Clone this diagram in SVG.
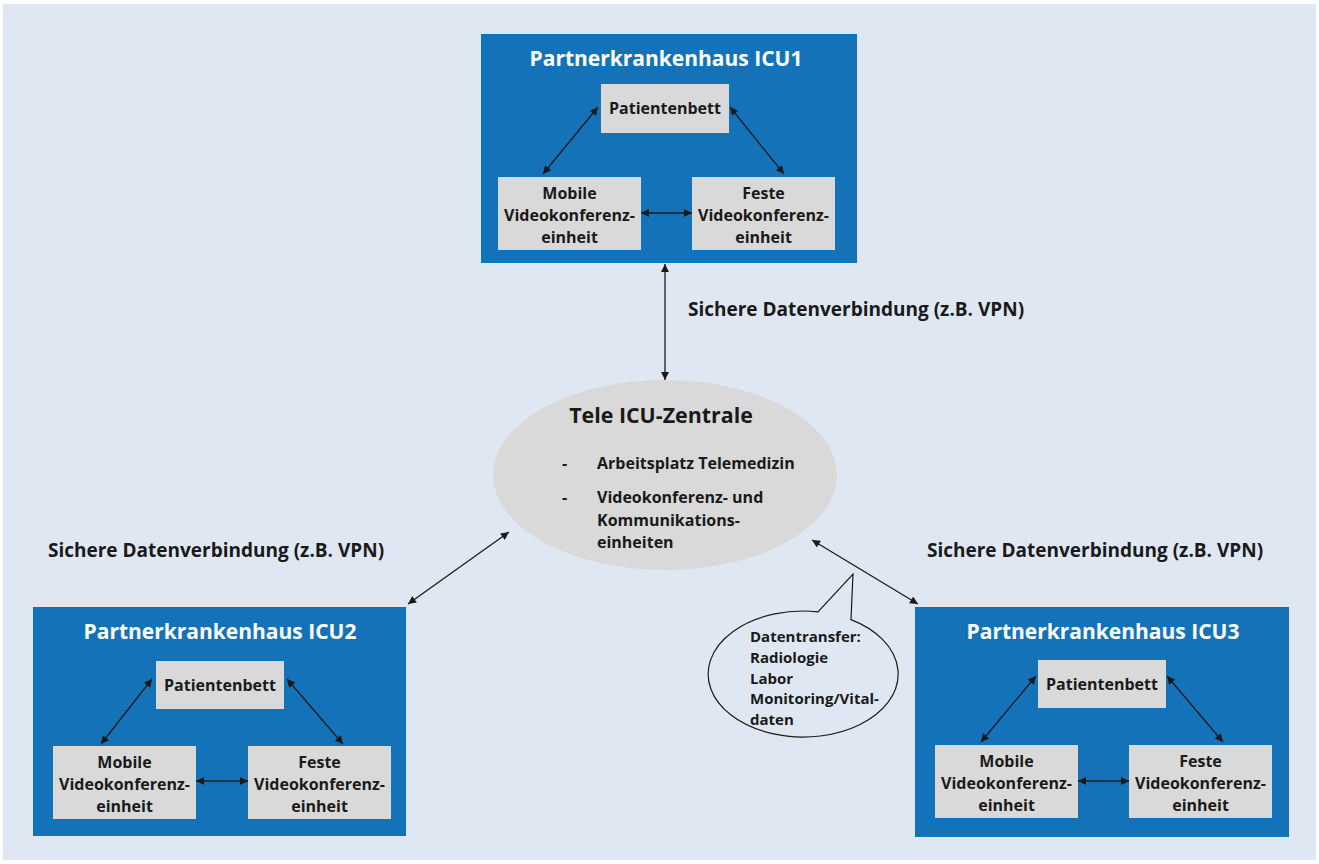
<svg xmlns="http://www.w3.org/2000/svg" width="1319" height="864" viewBox="0 0 1319 864">
<style>
.bg{fill:#dfe8f2}
.icu{fill:#1473b8}
.box{fill:#d9d9d9}
.t{font-family:"Open Sans","Liberation Sans",Arial,sans-serif;font-weight:bold;fill:#1a1a1a}
.title{font-family:"Open Sans","Liberation Sans",Arial,sans-serif;font-weight:bold;fill:#ffffff;font-size:21px;text-anchor:middle}
.bt{font-size:16px;text-anchor:middle}
.lbl{font-size:19px}
.con{stroke:#1a1a1a;stroke-width:1.3;fill:none;marker-start:url(#ah);marker-end:url(#ah)}
</style>
<defs>
<marker id="ah" viewBox="0 0 10 10" refX="10" refY="5" markerWidth="10" markerHeight="8" markerUnits="userSpaceOnUse" orient="auto-start-reverse">
<path d="M0,0 L10,5 L0,10 Z" fill="#1a1a1a"/>
</marker>
</defs>
<rect class="bg" x="3" y="4" width="1313" height="856"/>

<g id="icu1">
<rect class="icu" x="481" y="34" width="376" height="229"/>
<text class="title" x="666" y="66">Partnerkrankenhaus ICU1</text>
<g id="icu1-bett"><rect class="box" x="601" y="84" width="128" height="49"/><text class="t bt" x="665" y="114">Patientenbett</text></g>
<g id="icu1-mobile"><rect class="box" x="498" y="177" width="143" height="73"/><text class="t bt" x="569.5" y="199">Mobile</text><text class="t bt" x="569.5" y="221">Videokonferenz-</text><text class="t bt" x="569.5" y="243">einheit</text></g>
<g id="icu1-feste"><rect class="box" x="692" y="177" width="143" height="73"/><text class="t bt" x="763.5" y="199">Feste</text><text class="t bt" x="763.5" y="221">Videokonferenz-</text><text class="t bt" x="763.5" y="243">einheit</text></g>
</g>

<g id="icu2">
<rect class="icu" x="33" y="607" width="373" height="229"/>
<text class="title" x="220" y="639">Partnerkrankenhaus ICU2</text>
<g id="icu2-bett"><rect class="box" x="156" y="661" width="128" height="48"/><text class="t bt" x="220" y="691">Patientenbett</text></g>
<g id="icu2-mobile"><rect class="box" x="53" y="746" width="143" height="73"/><text class="t bt" x="124.5" y="768">Mobile</text><text class="t bt" x="124.5" y="790">Videokonferenz-</text><text class="t bt" x="124.5" y="812">einheit</text></g>
<g id="icu2-feste"><rect class="box" x="248" y="746" width="143" height="73"/><text class="t bt" x="319.5" y="768">Feste</text><text class="t bt" x="319.5" y="790">Videokonferenz-</text><text class="t bt" x="319.5" y="812">einheit</text></g>
</g>

<g id="icu3">
<rect class="icu" x="915" y="607" width="374" height="230"/>
<text class="title" x="1103" y="639">Partnerkrankenhaus ICU3</text>
<g id="icu3-bett"><rect class="box" x="1038" y="660" width="128" height="48"/><text class="t bt" x="1102" y="690">Patientenbett</text></g>
<g id="icu3-mobile"><rect class="box" x="935" y="745" width="143" height="73"/><text class="t bt" x="1006.5" y="767">Mobile</text><text class="t bt" x="1006.5" y="789">Videokonferenz-</text><text class="t bt" x="1006.5" y="811">einheit</text></g>
<g id="icu3-feste"><rect class="box" x="1129" y="745" width="143" height="73"/><text class="t bt" x="1200.5" y="767">Feste</text><text class="t bt" x="1200.5" y="789">Videokonferenz-</text><text class="t bt" x="1200.5" y="811">einheit</text></g>
</g>

<g id="zentrale">
<ellipse class="box" cx="665" cy="475" rx="172" ry="95"/>
<text class="t" x="661" y="423" font-size="21.4" text-anchor="middle">Tele ICU-Zentrale</text>
<text class="t" x="562" y="469" font-size="16">-</text>
<text class="t" x="597" y="469" font-size="16">Arbeitsplatz Telemedizin</text>
<text class="t" x="562" y="503" font-size="16">-</text>
<text class="t" x="597" y="503" font-size="16">Videokonferenz- und</text>
<text class="t" x="597" y="526" font-size="16">Kommunikations-</text>
<text class="t" x="597" y="548" font-size="16">einheiten</text>
</g>

<g id="datentransfer">
<path d="M818,611.8 A95,63 0 1 0 851,619.6 L853,574 Z" fill="#dfe8f2" stroke="#1a1a1a" stroke-width="1.2"/>
<text class="t" x="750" y="642" font-size="15">Datentransfer:</text>
<text class="t" x="750" y="663" font-size="15">Radiologie</text>
<text class="t" x="750" y="684" font-size="15">Labor</text>
<text class="t" x="750" y="704" font-size="15">Monitoring/Vital-</text>
<text class="t" x="750" y="725" font-size="15">daten</text>
</g>

<g id="labels">
<text class="t lbl" x="688" y="316">Sichere Datenverbindung (z.B. VPN)</text>
<text class="t lbl" x="48" y="557">Sichere Datenverbindung (z.B. VPN)</text>
<text class="t lbl" x="927" y="557">Sichere Datenverbindung (z.B. VPN)</text>
</g>

<g id="connectors">
<line class="con" x1="598" y1="107" x2="543" y2="174"/>
<line class="con" x1="730" y1="107" x2="784" y2="174"/>
<line class="con" x1="641" y1="213" x2="692" y2="213"/>
<line class="con" x1="152" y1="679" x2="101" y2="744"/>
<line class="con" x1="287" y1="679" x2="343" y2="744"/>
<line class="con" x1="196" y1="781" x2="248" y2="781"/>
<line class="con" x1="1036" y1="676" x2="981" y2="742"/>
<line class="con" x1="1167" y1="676" x2="1223" y2="742"/>
<line class="con" x1="1078" y1="781" x2="1129" y2="781"/>
<line class="con" x1="665" y1="264" x2="665" y2="380"/>
<line class="con" x1="408" y1="604" x2="509" y2="532"/>
<line class="con" x1="812" y1="540" x2="918" y2="604"/>
</g>
</svg>
